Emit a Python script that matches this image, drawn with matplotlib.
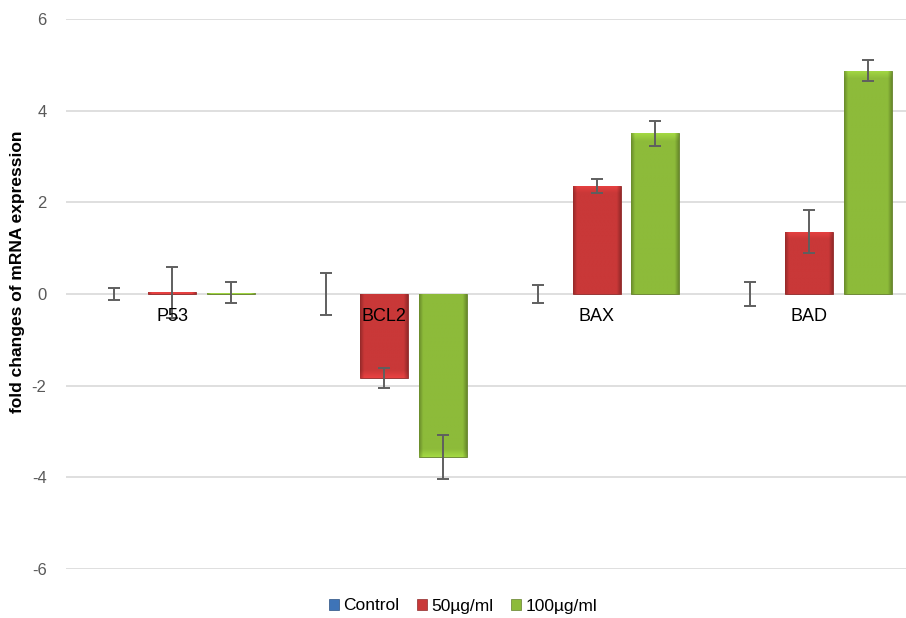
import numpy as np
import matplotlib
matplotlib.use("Agg")
import matplotlib.pyplot as plt
from matplotlib.patches import Patch
from matplotlib.colors import to_rgb

genes = ["P53", "BCL2", "BAX", "BAD"]
series = ["Control", "50µg/ml", "100µg/ml"]
control = [0.0, 0.0, 0.0, 0.0]
control_err = [0.14, 0.45, 0.19, 0.27]
dose50 = [0.04, -1.83, 2.36, 1.36]
dose50_err = [0.56, 0.21, 0.15, 0.47]
dose100 = [0.03, -3.55, 3.51, 4.87]
dose100_err = [0.23, 0.48, 0.27, 0.23]
yticks = [-6, -4, -2, 0, 2, 4, 6]

colors = ["#3E74B8", "#C93838", "#8DBB3A"]
edge_colors = ["#2A4F80", "#8E2A2A", "#647F2C"]

plt.rcParams['font.family'] = ['Liberation Sans', 'DejaVu Sans']

fig = plt.figure(figsize=(9.06, 6.18), dpi=100)
ax = fig.add_axes([66/906, 49/618, 840/906, 550/618])

x = np.arange(len(genes))
offset = 0.276
width = 0.226
data = [(control, control_err), (dose50, dose50_err), (dose100, dose100_err)]


def shade_bar(ax, patch, base):
    bx, by = patch.get_x(), patch.get_y()
    bw, bh = patch.get_width(), patch.get_height()
    if abs(bh) < 1e-9:
        return
    nx, ny = 60, 200
    r, g, b = to_rgb(base)
    img = np.zeros((ny, nx, 3))
    xs = np.linspace(0, 1, nx)
    edge = np.clip(1 - np.minimum(xs, 1 - xs) / 0.08, 0, 1)
    hfac = 1 - 0.25 * edge
    y0, y1 = min(by, by + bh), max(by, by + bh)
    ys = np.linspace(y1, y0, ny)
    bev = 0.17
    if bh > 0:
        d = (y1 - ys) / bev
    else:
        d = (ys - y0) / bev
    vfac = np.where(d < 1, 1.16 - 0.16 * np.clip(d, 0, 1), 1.0)
    for i in range(ny):
        f = hfac * vfac[i]
        img[i, :, 0] = np.clip(r * f, 0, 1)
        img[i, :, 1] = np.clip(g * f, 0, 1)
        img[i, :, 2] = np.clip(b * f, 0, 1)
    im = ax.imshow(img, extent=(bx, bx + bw, y0, y1), aspect='auto',
                   interpolation='bilinear', zorder=3)
    im.set_clip_path(patch)


for k, ((vals, errs), c, ec) in enumerate(zip(data, colors, edge_colors)):
    pos = x + (k - 1) * offset
    bars = ax.bar(pos, vals, width=width, color=c, edgecolor=ec,
                  linewidth=0.6, zorder=3, label=series[k])
    for p in bars:
        if abs(p.get_height()) < 1e-9:
            p.set_linewidth(0)
        shade_bar(ax, p, c)
    ax.errorbar(pos, vals, yerr=errs, fmt='none', ecolor='#5F5F5F',
                elinewidth=1.4, capsize=4.2, capthick=1.4, zorder=5)

for i, g in enumerate(genes):
    ax.text(x[i], -0.5, g, ha='center', va='center', fontsize=13,
            color='black', zorder=6)

ax.set_xlim(-0.5, 3.457)
ax.set_ylim(-6, 6)
ax.set_yticks(yticks)
ax.set_yticklabels([str(t) for t in yticks], fontsize=12, color='#595959')
ax.tick_params(axis='y', length=0, pad=14)
ax.set_xticks([])
ax.grid(axis='y', color='#D9D9D9', linewidth=1.2, zorder=0)
ax.set_axisbelow(True)
for s in ax.spines.values():
    s.set_visible(False)

fig.text(18/906, 1 - 272/618, "fold changes of mRNA expression", rotation=90,
         ha='center', va='center', fontsize=12.5, fontweight='bold')

handles = [Patch(facecolor=c, edgecolor=ec, linewidth=0.5)
           for c, ec in zip(colors, edge_colors)]
fig.legend(handles, series, loc='center', bbox_to_anchor=(463/906, 1 - 606/618),
           ncol=3, frameon=False, fontsize=12.5, handlelength=0.6,
           handleheight=0.6, handletextpad=0.25, columnspacing=1.0)

fig.savefig("out.png", dpi=100)
